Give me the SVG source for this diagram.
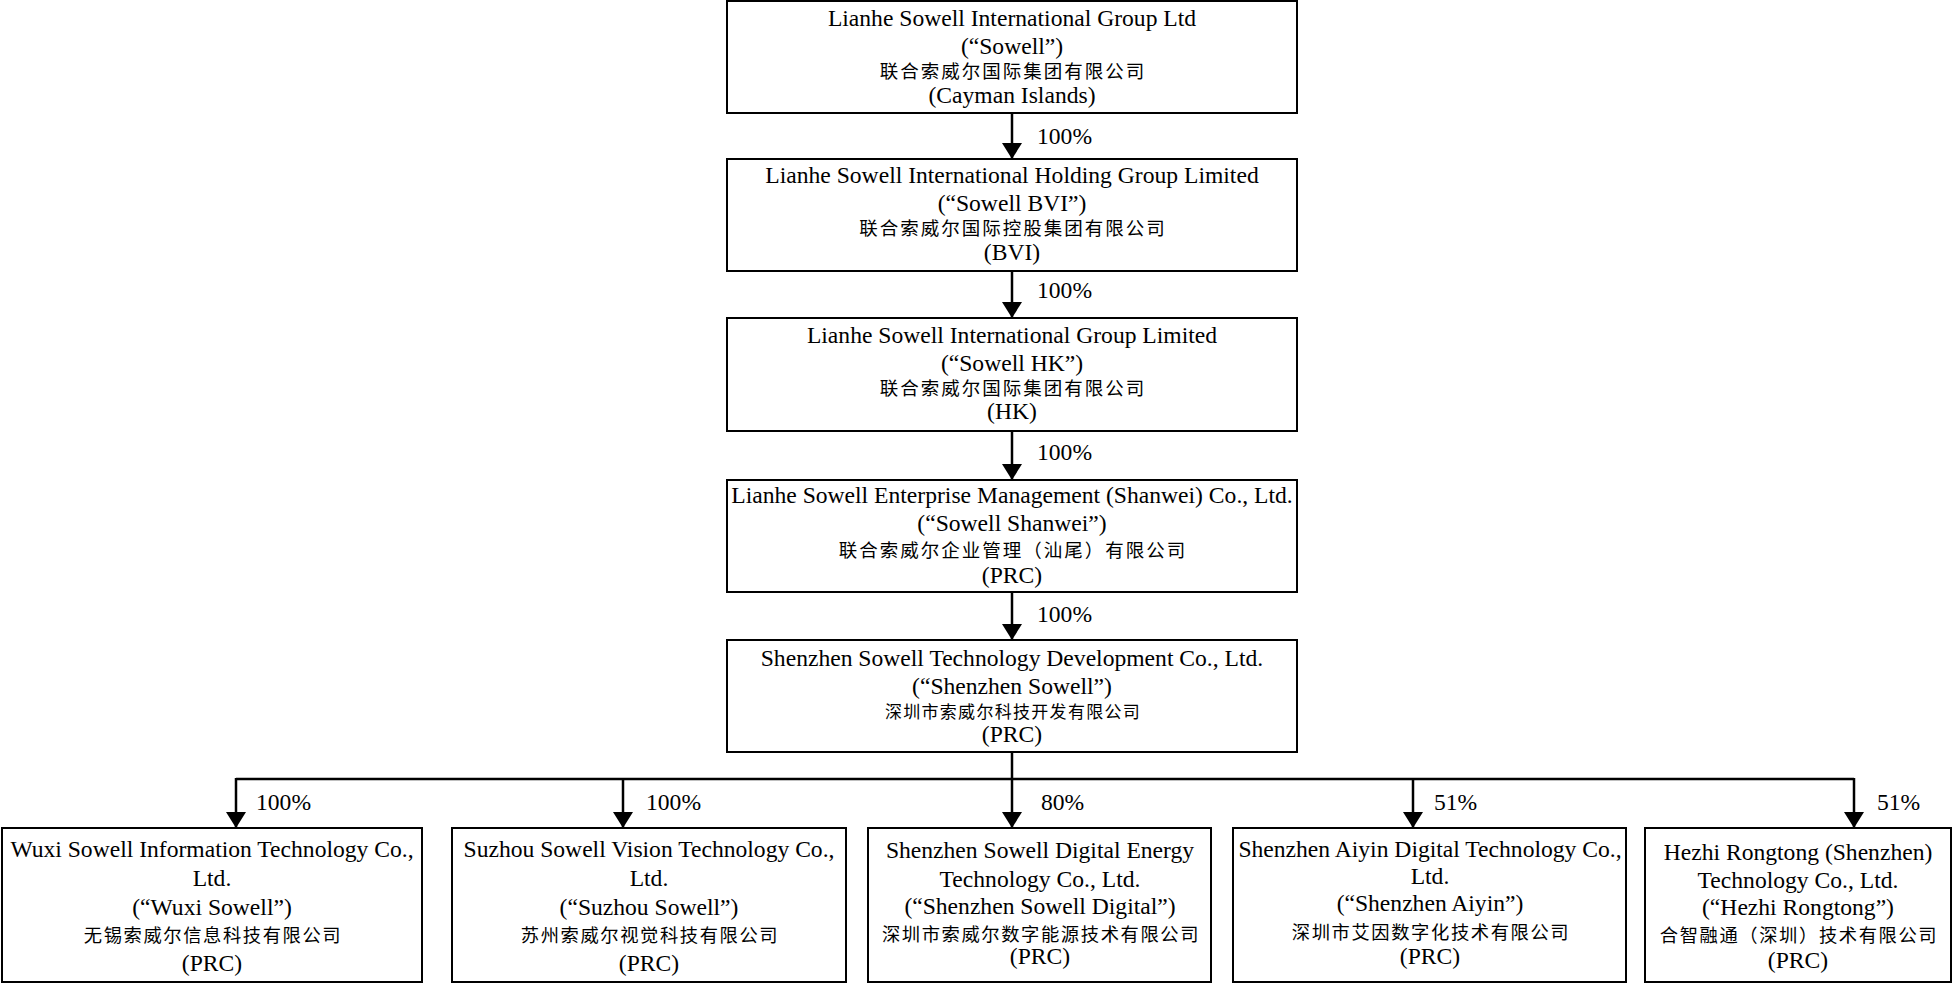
<svg xmlns="http://www.w3.org/2000/svg" width="1953" height="984" viewBox="0 0 1953 984">
<style>
.box{fill:#fff;stroke:#000;stroke-width:2}
.en{font-family:"Liberation Serif","Times New Roman",serif;font-size:23.6px;text-anchor:middle;fill:#000}
.zh{font-family:"Noto Sans CJK SC",sans-serif;font-size:18.5px;letter-spacing:2px;text-anchor:middle;fill:#000}
.zb{font-family:"Noto Sans CJK SC",sans-serif;font-size:18.3px;letter-spacing:1.6px;text-anchor:middle;fill:#000}
.zs{font-family:"Noto Sans CJK SC",sans-serif;font-size:17px;letter-spacing:1.3px;text-anchor:middle;fill:#000}
.pct{font-family:"Liberation Serif","Times New Roman",serif;font-size:23.6px;fill:#000}
.conn{stroke:#000;stroke-width:2.5;fill:none}
</style>
<defs>
<marker id="ah" viewBox="0 0 16 20" refX="16" refY="10" markerWidth="16" markerHeight="20" markerUnits="userSpaceOnUse" orient="auto"><path d="M0,0 L16,10 L0,20 z" fill="#000"/></marker>
</defs>
<rect width="1953" height="984" fill="#fff"/>
<g id="connectors">
<line class="conn" x1="1012" y1="113" x2="1012" y2="159" marker-end="url(#ah)"/>
<line class="conn" x1="1012" y1="271" x2="1012" y2="318" marker-end="url(#ah)"/>
<line class="conn" x1="1012" y1="431" x2="1012" y2="480" marker-end="url(#ah)"/>
<line class="conn" x1="1012" y1="592" x2="1012" y2="640" marker-end="url(#ah)"/>
<line class="conn" x1="1012" y1="752" x2="1012" y2="779"/>
<line class="conn" x1="236" y1="779" x2="1854" y2="779"/>
<line class="conn" x1="236" y1="778" x2="236" y2="828" marker-end="url(#ah)"/>
<line class="conn" x1="623" y1="779" x2="623" y2="828" marker-end="url(#ah)"/>
<line class="conn" x1="1012" y1="779" x2="1012" y2="828" marker-end="url(#ah)"/>
<line class="conn" x1="1413" y1="779" x2="1413" y2="828" marker-end="url(#ah)"/>
<line class="conn" x1="1854" y1="778" x2="1854" y2="828" marker-end="url(#ah)"/>
<text class="pct" x="1037" y="144">100%</text>
<text class="pct" x="1037" y="298">100%</text>
<text class="pct" x="1037" y="460">100%</text>
<text class="pct" x="1037" y="622">100%</text>
<text class="pct" x="256" y="810">100%</text>
<text class="pct" x="646" y="810">100%</text>
<text class="pct" x="1041" y="810">80%</text>
<text class="pct" x="1434" y="810">51%</text>
<text class="pct" x="1877" y="810">51%</text>
</g>
<g id="sowell">
<rect class="box" x="727" y="1" width="570" height="112"/>
<text class="en" x="1012" y="26">Lianhe Sowell International Group Ltd</text>
<text class="en" x="1012" y="54">(“Sowell”)</text>
<text class="zh" x="1013" y="78">联合索威尔国际集团有限公司</text>
<text class="en" x="1012" y="103">(Cayman Islands)</text>
</g>
<g id="sowell-bvi">
<rect class="box" x="727" y="159" width="570" height="112"/>
<text class="en" x="1012" y="183">Lianhe Sowell International Holding Group Limited</text>
<text class="en" x="1012" y="211">(“Sowell BVI”)</text>
<text class="zh" x="1013" y="235">联合索威尔国际控股集团有限公司</text>
<text class="en" x="1012" y="260">(BVI)</text>
</g>
<g id="sowell-hk">
<rect class="box" x="727" y="318" width="570" height="113"/>
<text class="en" x="1012" y="343">Lianhe Sowell International Group Limited</text>
<text class="en" x="1012" y="371">(“Sowell HK”)</text>
<text class="zh" x="1013" y="395">联合索威尔国际集团有限公司</text>
<text class="en" x="1012" y="419">(HK)</text>
</g>
<g id="sowell-shanwei">
<rect class="box" x="727" y="480" width="570" height="112"/>
<text class="en" x="1012" y="503">Lianhe Sowell Enterprise Management (Shanwei) Co., Ltd.</text>
<text class="en" x="1012" y="531">(“Sowell Shanwei”)</text>
<text class="zh" x="1013" y="557">联合索威尔企业管理（汕尾）有限公司</text>
<text class="en" x="1012" y="583">(PRC)</text>
</g>
<g id="shenzhen-sowell">
<rect class="box" x="727" y="640" width="570" height="112"/>
<text class="en" x="1012" y="666">Shenzhen Sowell Technology Development Co., Ltd.</text>
<text class="en" x="1012" y="694">(“Shenzhen Sowell”)</text>
<text class="zs" x="1013" y="718">深圳市索威尔科技开发有限公司</text>
<text class="en" x="1012" y="742">(PRC)</text>
</g>
<g id="wuxi-sowell">
<rect class="box" x="2" y="828" width="420" height="154"/>
<text class="en" x="212" y="857">Wuxi Sowell Information Technology Co.,</text>
<text class="en" x="212" y="886">Ltd.</text>
<text class="en" x="212" y="915">(“Wuxi Sowell”)</text>
<text class="zb" x="213" y="942">无锡索威尔信息科技有限公司</text>
<text class="en" x="212" y="971">(PRC)</text>
</g>
<g id="suzhou-sowell">
<rect class="box" x="452" y="828" width="394" height="154"/>
<text class="en" x="649" y="857">Suzhou Sowell Vision Technology Co.,</text>
<text class="en" x="649" y="886">Ltd.</text>
<text class="en" x="649" y="915">(“Suzhou Sowell”)</text>
<text class="zb" x="650" y="942">苏州索威尔视觉科技有限公司</text>
<text class="en" x="649" y="971">(PRC)</text>
</g>
<g id="shenzhen-sowell-digital">
<rect class="box" x="868" y="828" width="343" height="154"/>
<text class="en" x="1040" y="858">Shenzhen Sowell Digital Energy</text>
<text class="en" x="1040" y="887">Technology Co., Ltd.</text>
<text class="en" x="1040" y="914">(“Shenzhen Sowell Digital”)</text>
<text class="zb" x="1041" y="941">深圳市索威尔数字能源技术有限公司</text>
<text class="en" x="1040" y="964">(PRC)</text>
</g>
<g id="shenzhen-aiyin">
<rect class="box" x="1233" y="828" width="393" height="154"/>
<text class="en" x="1430" y="857">Shenzhen Aiyin Digital Technology Co.,</text>
<text class="en" x="1430" y="884">Ltd.</text>
<text class="en" x="1430" y="911">(“Shenzhen Aiyin”)</text>
<text class="zb" x="1431" y="939">深圳市艾因数字化技术有限公司</text>
<text class="en" x="1430" y="964">(PRC)</text>
</g>
<g id="hezhi-rongtong">
<rect class="box" x="1645" y="828" width="306" height="154"/>
<text class="en" x="1798" y="860">Hezhi Rongtong (Shenzhen)</text>
<text class="en" x="1798" y="888">Technology Co., Ltd.</text>
<text class="en" x="1798" y="915">(“Hezhi Rongtong”)</text>
<text class="zb" x="1799" y="942">合智融通（深圳）技术有限公司</text>
<text class="en" x="1798" y="968">(PRC)</text>
</g>
</svg>
